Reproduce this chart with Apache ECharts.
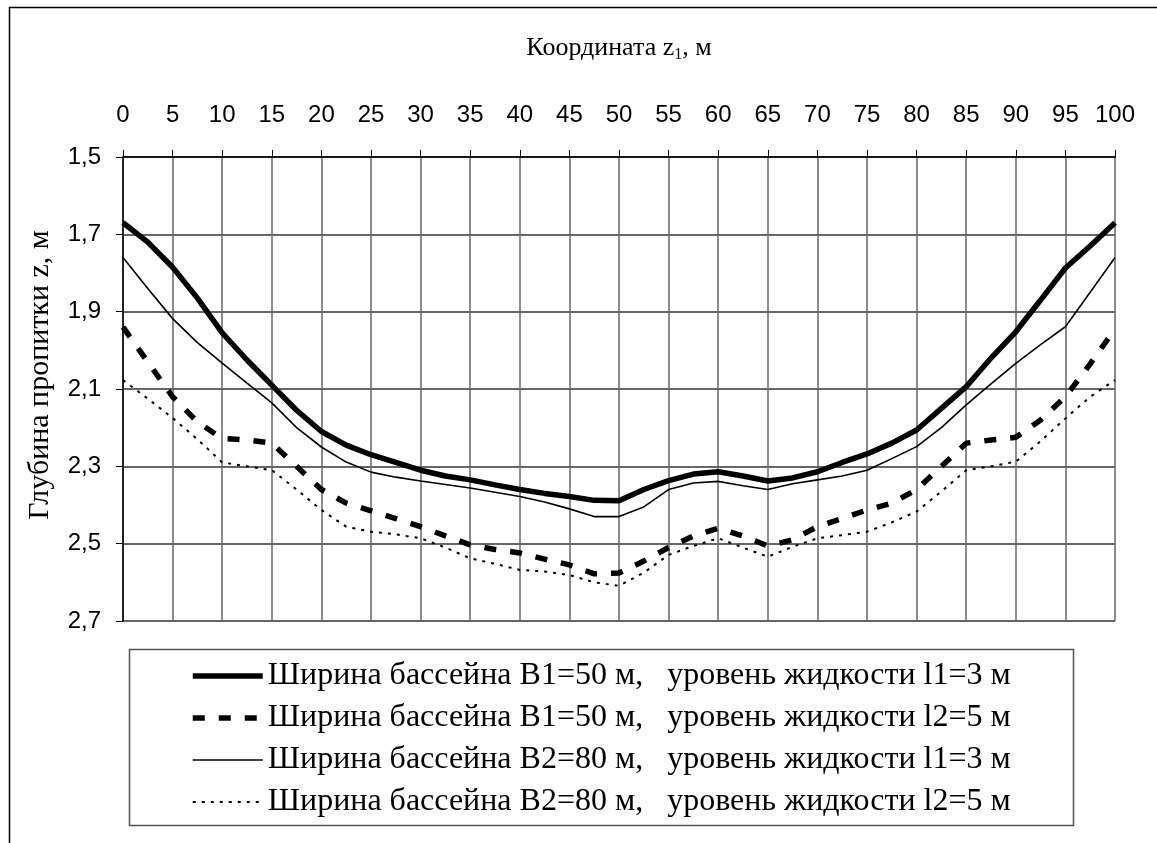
<!DOCTYPE html>
<html>
<meta charset="UTF-8">
<title>glubina-propitki</title>
<style type="text/css">
    html,
    body {
        margin: 0px;
        height: 100%;
        width: 100%;
        background: #fff;
    }

    #chart {
        width: 1157px;
        height: 843px;
    }
</style>
<script src="https://cdn.jsdelivr.net/npm/echarts@6/dist/echarts.min.js"></script>

<body>
    <div id="chart"></div>
    <script>

        // координата z1, м
        const zCoord = [0, 2.5, 5, 7.5, 10, 12.5, 15, 17.5, 20, 22.5, 25, 27.5, 30, 32.5, 35, 37.5, 40, 42.5, 45, 47.5,
            50, 52.5, 55, 57.5, 60, 62.5, 65, 67.5, 70, 72.5, 75, 77.5, 80, 82.5, 85, 87.5, 90, 92.5, 95, 97.5, 100];

        // B1=50, l1=3
        const b1l1 = [1.67, 1.72, 1.785, 1.865, 1.955, 2.025, 2.09, 2.155, 2.21, 2.245, 2.27, 2.29, 2.31, 2.325, 2.335, 2.348, 2.36, 2.37, 2.378, 2.388,
            2.389, 2.36, 2.337, 2.32, 2.314, 2.325, 2.338, 2.33, 2.314, 2.29, 2.268, 2.24, 2.206, 2.15, 2.094, 2.02, 1.952, 1.87, 1.787, 1.73, 1.67];
        // B1=50, l2=5
        const b1l2 = [1.94, 2.03, 2.12, 2.185, 2.228, 2.232, 2.24, 2.3, 2.36, 2.395, 2.415, 2.435, 2.456, 2.48, 2.503, 2.515, 2.524, 2.54, 2.555, 2.578,
            2.576, 2.545, 2.51, 2.48, 2.46, 2.48, 2.506, 2.49, 2.456, 2.435, 2.413, 2.395, 2.36, 2.3, 2.24, 2.232, 2.225, 2.18, 2.12, 2.035, 1.945];
        // B2=80, l1=3
        const b2l1 = [1.76, 1.84, 1.918, 1.98, 2.033, 2.085, 2.136, 2.2, 2.25, 2.289, 2.315, 2.328, 2.338, 2.347, 2.356, 2.367, 2.378, 2.392, 2.41, 2.43,
            2.43, 2.405, 2.36, 2.343, 2.339, 2.35, 2.36, 2.345, 2.335, 2.325, 2.31, 2.28, 2.249, 2.2, 2.141, 2.087, 2.034, 1.985, 1.939, 1.85, 1.76];
        // B2=80, l2=5
        const b2l2 = [2.077, 2.125, 2.175, 2.23, 2.29, 2.3, 2.31, 2.36, 2.413, 2.456, 2.469, 2.476, 2.486, 2.51, 2.538, 2.552, 2.568, 2.572, 2.581, 2.6,
            2.609, 2.575, 2.529, 2.506, 2.486, 2.51, 2.534, 2.508, 2.486, 2.478, 2.469, 2.445, 2.417, 2.365, 2.31, 2.3, 2.288, 2.235, 2.176, 2.12, 2.077];

        const seriesNames = [
            'Ширина бассейна B1=50 м,   уровень жидкости l1=3 м',
            'Ширина бассейна B1=50 м,   уровень жидкости l2=5 м',
            'Ширина бассейна B2=80 м,   уровень жидкости l1=3 м',
            'Ширина бассейна B2=80 м,   уровень жидкости l2=5 м'
        ];
        const lineWidths = [5.5, 5.5, 1.6, 2];
        const lineTypes = ['solid', [12, 14], 'solid', [3, 6]];

        const pairs = vals => zCoord.map((z, i) => [z, vals[i]]);

        const serif = '"Liberation Serif", "DejaVu Serif", serif';
        const sans = '"Liberation Sans", Arial, sans-serif';

        const chart = echarts.init(document.querySelector('#chart'));

        const makeSeries = (vals, i) => ({
            name: seriesNames[i],
            type: 'line',
            data: pairs(vals),
            showSymbol: false,
            symbol: 'none',
            lineStyle: { color: '#000', width: lineWidths[i], type: lineTypes[i] },
            itemStyle: { color: '#000' }
        });

        const options = {
            animation: false,
            backgroundColor: '#fff',
            graphic: [
                {
                    type: 'rect',
                    shape: { x: 9.5, y: 7.5, width: 1300, height: 1000 },
                    style: { fill: 'none', stroke: '#000', lineWidth: 1.5 },
                    z: -1
                },
                {
                    type: 'rect',
                    shape: { x: 129.5, y: 649.5, width: 944, height: 176 },
                    style: { fill: '#fff', stroke: '#555', lineWidth: 1.5 },
                    z: -1
                }
            ],
            grid: {
                left: 123,
                right: 42,
                top: 157,
                bottom: 222
            },
            legend: {
                orient: 'vertical',
                left: 185,
                top: 655,
                itemWidth: 70,
                itemHeight: 14,
                itemGap: 10,
                itemStyle: { opacity: 0 },
                textStyle: {
                    fontFamily: serif,
                    fontSize: 32,
                    color: '#000'
                },
                data: seriesNames.map((name, i) => ({
                    name,
                    itemStyle: { opacity: 0 },
                    lineStyle: { width: lineWidths[i], type: lineTypes[i], color: '#000' }
                }))
            },
            xAxis: {
                type: 'value',
                position: 'top',
                min: 0,
                max: 100,
                interval: 5,
                name: 'Координата z{sub|1}, м',
                nameLocation: 'middle',
                nameGap: 94,
                nameTextStyle: {
                    fontFamily: serif,
                    fontSize: 26,
                    color: '#000',
                    rich: {
                        sub: { fontFamily: serif, fontSize: 16, verticalAlign: 'bottom', padding: [14, 0, 0, 0] }
                    }
                },
                axisLine: { onZero: false, lineStyle: { color: '#000', width: 1.5 } },
                axisTick: { show: true, inside: false, length: 7, lineStyle: { color: '#000' } },
                axisLabel: {
                    margin: 30,
                    fontFamily: sans,
                    fontSize: 24,
                    color: '#000'
                },
                splitLine: { show: true, lineStyle: { color: '#666', width: 1.5 } }
            },
            yAxis: {
                type: 'value',
                inverse: true,
                min: 1.5,
                max: 2.7,
                interval: 0.2,
                name: 'Глубина пропитки z, м',
                nameLocation: 'middle',
                nameRotate: 90,
                nameGap: 68,
                nameTextStyle: {
                    fontFamily: serif,
                    fontSize: 30,
                    color: '#000',
                    padding: [0, 0, 0, 28]
                },
                axisLine: { show: true, lineStyle: { color: '#000', width: 1.5 } },
                axisTick: { show: true, inside: false, length: 7, lineStyle: { color: '#000' } },
                axisLabel: {
                    margin: 22,
                    fontFamily: sans,
                    fontSize: 24,
                    color: '#000',
                    formatter: v => v.toFixed(1).replace('.', ',')
                },
                splitLine: { show: true, lineStyle: { color: '#333', width: 1.5 } }
            },
            series: [b1l1, b1l2, b2l1, b2l2].map(makeSeries)
        };
        chart.setOption(options);

    </script>
</body>

</html>
